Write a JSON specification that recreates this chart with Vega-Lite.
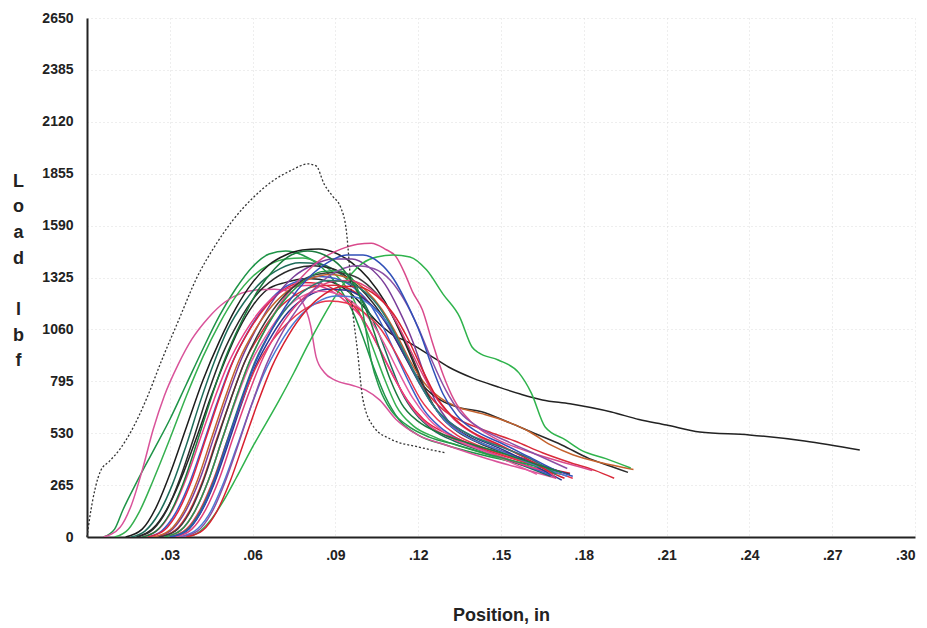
{
  "$schema": "https://vega.github.io/schema/vega-lite/v6.json",
  "width": 828,
  "height": 519,
  "autosize": {"type": "none"},
  "padding": {"left": 87, "top": 18, "right": 12, "bottom": 91},
  "background": "white",
  "config": {
    "view": {"stroke": null},
    "font": "Liberation Sans"
  },
  "datasets": {
    "dotted": [
      {"s":"A","x":0.0,"y":0},{"s":"A","x":0.001,"y":100},{"s":"A","x":0.003,"y":250},{"s":"A","x":0.005,"y":340},{"s":"A","x":0.008,"y":385},{"s":"A","x":0.012,"y":450},{"s":"A","x":0.016,"y":540},{"s":"A","x":0.022,"y":720},{"s":"A","x":0.027,"y":900},{"s":"A","x":0.033,"y":1100},{"s":"A","x":0.04,"y":1330},{"s":"A","x":0.047,"y":1500},{"s":"A","x":0.053,"y":1620},{"s":"A","x":0.06,"y":1730},{"s":"A","x":0.067,"y":1815},{"s":"A","x":0.074,"y":1872},{"s":"A","x":0.08,"y":1905},{"s":"A","x":0.083,"y":1895},{"s":"A","x":0.086,"y":1800},{"s":"A","x":0.089,"y":1740},{"s":"A","x":0.092,"y":1680},{"s":"A","x":0.094,"y":1560},{"s":"A","x":0.095,"y":1400},{"s":"A","x":0.096,"y":1200},{"s":"A","x":0.098,"y":950},{"s":"A","x":0.1,"y":700},{"s":"A","x":0.104,"y":560},{"s":"A","x":0.11,"y":500},{"s":"A","x":0.12,"y":460},{"s":"A","x":0.13,"y":430}
    ],
    "main": [
      {"s":"B","x":0.018,"y":0},{"s":"B","x":0.025,"y":60},{"s":"B","x":0.03,"y":170},{"s":"B","x":0.035,"y":330},{"s":"B","x":0.04,"y":520},{"s":"B","x":0.045,"y":720},{"s":"B","x":0.05,"y":900},{"s":"B","x":0.055,"y":1060},{"s":"B","x":0.06,"y":1180},{"s":"B","x":0.065,"y":1260},{"s":"B","x":0.072,"y":1300},{"s":"B","x":0.08,"y":1320},{"s":"B","x":0.088,"y":1305},{"s":"B","x":0.095,"y":1250},{"s":"B","x":0.1,"y":1180},{"s":"B","x":0.105,"y":1100},{"s":"B","x":0.11,"y":1040},{"s":"B","x":0.117,"y":990},{"s":"B","x":0.124,"y":930},{"s":"B","x":0.131,"y":868},{"s":"B","x":0.14,"y":810},{"s":"B","x":0.149,"y":766},{"s":"B","x":0.157,"y":730},{"s":"B","x":0.165,"y":700},{"s":"B","x":0.175,"y":680},{"s":"B","x":0.19,"y":638},{"s":"B","x":0.2,"y":600},{"s":"B","x":0.21,"y":572},{"s":"B","x":0.222,"y":536},{"s":"B","x":0.24,"y":521},{"s":"B","x":0.26,"y":490},{"s":"B","x":0.28,"y":444},

      {"s":"C1","x":0.006,"y":0},{"s":"C1","x":0.01,"y":40},{"s":"C1","x":0.013,"y":138},{"s":"C1","x":0.018,"y":280},{"s":"C1","x":0.024,"y":440},{"s":"C1","x":0.03,"y":600},{"s":"C1","x":0.036,"y":780},{"s":"C1","x":0.042,"y":960},{"s":"C1","x":0.048,"y":1130},{"s":"C1","x":0.054,"y":1270},{"s":"C1","x":0.06,"y":1380},{"s":"C1","x":0.066,"y":1445},{"s":"C1","x":0.072,"y":1460},{"s":"C1","x":0.078,"y":1440},{"s":"C1","x":0.084,"y":1390},{"s":"C1","x":0.09,"y":1300},{"s":"C1","x":0.096,"y":1160},{"s":"C1","x":0.1,"y":1020},{"s":"C1","x":0.104,"y":860},{"s":"C1","x":0.108,"y":720},{"s":"C1","x":0.113,"y":600},{"s":"C1","x":0.12,"y":520},{"s":"C1","x":0.13,"y":470},{"s":"C1","x":0.14,"y":430},{"s":"C1","x":0.155,"y":380},{"s":"C1","x":0.168,"y":330},

      {"s":"C2","x":0.006,"y":0},{"s":"C2","x":0.012,"y":50},{"s":"C2","x":0.016,"y":160},{"s":"C2","x":0.02,"y":340},{"s":"C2","x":0.024,"y":550},{"s":"C2","x":0.028,"y":720},{"s":"C2","x":0.033,"y":880},{"s":"C2","x":0.038,"y":1010},{"s":"C2","x":0.044,"y":1120},{"s":"C2","x":0.05,"y":1200},{"s":"C2","x":0.056,"y":1245},{"s":"C2","x":0.062,"y":1262},{"s":"C2","x":0.068,"y":1265},{"s":"C2","x":0.074,"y":1250},{"s":"C2","x":0.078,"y":1200},{"s":"C2","x":0.081,"y":1080},{"s":"C2","x":0.083,"y":920},{"s":"C2","x":0.086,"y":840},{"s":"C2","x":0.09,"y":800},{"s":"C2","x":0.096,"y":775},{"s":"C2","x":0.101,"y":750},{"s":"C2","x":0.106,"y":700},{"s":"C2","x":0.112,"y":600},{"s":"C2","x":0.12,"y":520},{"s":"C2","x":0.13,"y":470},{"s":"C2","x":0.145,"y":400},{"s":"C2","x":0.16,"y":340},{"s":"C2","x":0.17,"y":300},

      {"s":"C3","x":0.01,"y":0},{"s":"C3","x":0.015,"y":40},{"s":"C3","x":0.019,"y":130},{"s":"C3","x":0.024,"y":290},{"s":"C3","x":0.03,"y":500},{"s":"C3","x":0.036,"y":720},{"s":"C3","x":0.042,"y":920},{"s":"C3","x":0.048,"y":1090},{"s":"C3","x":0.054,"y":1230},{"s":"C3","x":0.06,"y":1330},{"s":"C3","x":0.066,"y":1390},{"s":"C3","x":0.072,"y":1420},{"s":"C3","x":0.078,"y":1425},{"s":"C3","x":0.084,"y":1400},{"s":"C3","x":0.09,"y":1340},{"s":"C3","x":0.096,"y":1230},{"s":"C3","x":0.1,"y":1100},{"s":"C3","x":0.104,"y":950},{"s":"C3","x":0.108,"y":800},{"s":"C3","x":0.112,"y":670},{"s":"C3","x":0.118,"y":570},{"s":"C3","x":0.126,"y":510},{"s":"C3","x":0.136,"y":460},{"s":"C3","x":0.15,"y":400},{"s":"C3","x":0.165,"y":340},{"s":"C3","x":0.172,"y":320},

      {"s":"C4","x":0.014,"y":0},{"s":"C4","x":0.02,"y":40},{"s":"C4","x":0.025,"y":150},{"s":"C4","x":0.03,"y":320},{"s":"C4","x":0.036,"y":560},{"s":"C4","x":0.042,"y":800},{"s":"C4","x":0.048,"y":1000},{"s":"C4","x":0.054,"y":1170},{"s":"C4","x":0.06,"y":1300},{"s":"C4","x":0.066,"y":1390},{"s":"C4","x":0.072,"y":1440},{"s":"C4","x":0.078,"y":1465},{"s":"C4","x":0.084,"y":1470},{"s":"C4","x":0.09,"y":1450},{"s":"C4","x":0.096,"y":1400},{"s":"C4","x":0.102,"y":1320},{"s":"C4","x":0.108,"y":1200},{"s":"C4","x":0.113,"y":1060},{"s":"C4","x":0.118,"y":900},{"s":"C4","x":0.122,"y":760},{"s":"C4","x":0.127,"y":640},{"s":"C4","x":0.133,"y":560},{"s":"C4","x":0.14,"y":500},{"s":"C4","x":0.15,"y":440},{"s":"C4","x":0.16,"y":390},{"s":"C4","x":0.17,"y":340},

      {"s":"C5","x":0.016,"y":0},{"s":"C5","x":0.021,"y":30},{"s":"C5","x":0.026,"y":120},{"s":"C5","x":0.031,"y":270},{"s":"C5","x":0.036,"y":470},{"s":"C5","x":0.041,"y":690},{"s":"C5","x":0.046,"y":890},{"s":"C5","x":0.051,"y":1060},{"s":"C5","x":0.057,"y":1200},{"s":"C5","x":0.063,"y":1300},{"s":"C5","x":0.07,"y":1370},{"s":"C5","x":0.077,"y":1400},{"s":"C5","x":0.084,"y":1395},{"s":"C5","x":0.09,"y":1360},{"s":"C5","x":0.096,"y":1290},{"s":"C5","x":0.101,"y":1180},{"s":"C5","x":0.106,"y":1030},{"s":"C5","x":0.11,"y":880},{"s":"C5","x":0.114,"y":740},{"s":"C5","x":0.119,"y":630},{"s":"C5","x":0.125,"y":550},{"s":"C5","x":0.133,"y":490},{"s":"C5","x":0.143,"y":440},{"s":"C5","x":0.155,"y":380},{"s":"C5","x":0.168,"y":310},

      {"s":"C6","x":0.022,"y":0},{"s":"C6","x":0.027,"y":30},{"s":"C6","x":0.032,"y":120},{"s":"C6","x":0.037,"y":270},{"s":"C6","x":0.042,"y":470},{"s":"C6","x":0.047,"y":680},{"s":"C6","x":0.052,"y":870},{"s":"C6","x":0.058,"y":1040},{"s":"C6","x":0.064,"y":1170},{"s":"C6","x":0.07,"y":1260},{"s":"C6","x":0.077,"y":1310},{"s":"C6","x":0.084,"y":1330},{"s":"C6","x":0.09,"y":1320},{"s":"C6","x":0.096,"y":1280},{"s":"C6","x":0.102,"y":1200},{"s":"C6","x":0.107,"y":1080},{"s":"C6","x":0.112,"y":930},{"s":"C6","x":0.117,"y":780},{"s":"C6","x":0.122,"y":650},{"s":"C6","x":0.128,"y":560},{"s":"C6","x":0.136,"y":490},{"s":"C6","x":0.146,"y":430},{"s":"C6","x":0.158,"y":370},{"s":"C6","x":0.17,"y":305},

      {"s":"C7","x":0.022,"y":0},{"s":"C7","x":0.028,"y":35},{"s":"C7","x":0.033,"y":130},{"s":"C7","x":0.038,"y":290},{"s":"C7","x":0.043,"y":500},{"s":"C7","x":0.048,"y":710},{"s":"C7","x":0.053,"y":900},{"s":"C7","x":0.059,"y":1060},{"s":"C7","x":0.065,"y":1180},{"s":"C7","x":0.071,"y":1260},{"s":"C7","x":0.078,"y":1300},{"s":"C7","x":0.084,"y":1295},{"s":"C7","x":0.09,"y":1260},{"s":"C7","x":0.096,"y":1190},{"s":"C7","x":0.101,"y":1090},{"s":"C7","x":0.106,"y":960},{"s":"C7","x":0.111,"y":820},{"s":"C7","x":0.116,"y":700},{"s":"C7","x":0.122,"y":600},{"s":"C7","x":0.13,"y":530},{"s":"C7","x":0.14,"y":470},{"s":"C7","x":0.152,"y":410},{"s":"C7","x":0.164,"y":360},{"s":"C7","x":0.175,"y":325},

      {"s":"C8","x":0.02,"y":0},{"s":"C8","x":0.026,"y":40},{"s":"C8","x":0.031,"y":140},{"s":"C8","x":0.036,"y":300},{"s":"C8","x":0.041,"y":500},{"s":"C8","x":0.046,"y":700},{"s":"C8","x":0.051,"y":880},{"s":"C8","x":0.057,"y":1040},{"s":"C8","x":0.063,"y":1160},{"s":"C8","x":0.069,"y":1240},{"s":"C8","x":0.076,"y":1280},{"s":"C8","x":0.082,"y":1285},{"s":"C8","x":0.088,"y":1260},{"s":"C8","x":0.094,"y":1200},{"s":"C8","x":0.1,"y":1110},{"s":"C8","x":0.105,"y":990},{"s":"C8","x":0.11,"y":850},{"s":"C8","x":0.115,"y":720},{"s":"C8","x":0.12,"y":620},{"s":"C8","x":0.127,"y":540},{"s":"C8","x":0.136,"y":480},{"s":"C8","x":0.148,"y":420},{"s":"C8","x":0.16,"y":360},{"s":"C8","x":0.168,"y":330},

      {"s":"C9","x":0.025,"y":0},{"s":"C9","x":0.031,"y":40},{"s":"C9","x":0.036,"y":140},{"s":"C9","x":0.041,"y":300},{"s":"C9","x":0.046,"y":510},{"s":"C9","x":0.051,"y":720},{"s":"C9","x":0.056,"y":910},{"s":"C9","x":0.062,"y":1080},{"s":"C9","x":0.068,"y":1220},{"s":"C9","x":0.075,"y":1330},{"s":"C9","x":0.082,"y":1390},{"s":"C9","x":0.089,"y":1420},{"s":"C9","x":0.096,"y":1420},{"s":"C9","x":0.102,"y":1380},{"s":"C9","x":0.108,"y":1290},{"s":"C9","x":0.113,"y":1160},{"s":"C9","x":0.118,"y":1000},{"s":"C9","x":0.122,"y":840},{"s":"C9","x":0.126,"y":700},{"s":"C9","x":0.131,"y":590},{"s":"C9","x":0.138,"y":510},{"s":"C9","x":0.148,"y":450},{"s":"C9","x":0.16,"y":390},{"s":"C9","x":0.172,"y":330},

      {"s":"C10","x":0.018,"y":0},{"s":"C10","x":0.024,"y":40},{"s":"C10","x":0.029,"y":140},{"s":"C10","x":0.034,"y":310},{"s":"C10","x":0.039,"y":520},{"s":"C10","x":0.044,"y":740},{"s":"C10","x":0.049,"y":930},{"s":"C10","x":0.055,"y":1100},{"s":"C10","x":0.061,"y":1230},{"s":"C10","x":0.068,"y":1320},{"s":"C10","x":0.075,"y":1370},{"s":"C10","x":0.082,"y":1385},{"s":"C10","x":0.089,"y":1370},{"s":"C10","x":0.095,"y":1320},{"s":"C10","x":0.101,"y":1240},{"s":"C10","x":0.107,"y":1130},{"s":"C10","x":0.112,"y":1010},{"s":"C10","x":0.117,"y":880},{"s":"C10","x":0.122,"y":770},{"s":"C10","x":0.128,"y":700},{"s":"C10","x":0.135,"y":660},{"s":"C10","x":0.143,"y":640},{"s":"C10","x":0.152,"y":590},{"s":"C10","x":0.162,"y":530},{"s":"C10","x":0.172,"y":470},{"s":"C10","x":0.182,"y":400},{"s":"C10","x":0.19,"y":360},{"s":"C10","x":0.196,"y":330},

      {"s":"C11","x":0.024,"y":0},{"s":"C11","x":0.03,"y":35},{"s":"C11","x":0.035,"y":130},{"s":"C11","x":0.04,"y":290},{"s":"C11","x":0.045,"y":500},{"s":"C11","x":0.05,"y":710},{"s":"C11","x":0.055,"y":900},{"s":"C11","x":0.061,"y":1060},{"s":"C11","x":0.067,"y":1180},{"s":"C11","x":0.074,"y":1270},{"s":"C11","x":0.081,"y":1320},{"s":"C11","x":0.088,"y":1340},{"s":"C11","x":0.095,"y":1320},{"s":"C11","x":0.101,"y":1260},{"s":"C11","x":0.107,"y":1160},{"s":"C11","x":0.112,"y":1040},{"s":"C11","x":0.117,"y":900},{"s":"C11","x":0.122,"y":790},{"s":"C11","x":0.128,"y":710},{"s":"C11","x":0.135,"y":660},{"s":"C11","x":0.143,"y":630},{"s":"C11","x":0.152,"y":590},{"s":"C11","x":0.16,"y":540},{"s":"C11","x":0.168,"y":470},{"s":"C11","x":0.176,"y":420},{"s":"C11","x":0.186,"y":380},{"s":"C11","x":0.198,"y":345},

      {"s":"C12","x":0.026,"y":0},{"s":"C12","x":0.032,"y":35},{"s":"C12","x":0.037,"y":130},{"s":"C12","x":0.042,"y":290},{"s":"C12","x":0.047,"y":500},{"s":"C12","x":0.052,"y":700},{"s":"C12","x":0.057,"y":890},{"s":"C12","x":0.063,"y":1040},{"s":"C12","x":0.069,"y":1160},{"s":"C12","x":0.076,"y":1240},{"s":"C12","x":0.083,"y":1280},{"s":"C12","x":0.09,"y":1285},{"s":"C12","x":0.096,"y":1260},{"s":"C12","x":0.102,"y":1200},{"s":"C12","x":0.108,"y":1100},{"s":"C12","x":0.113,"y":980},{"s":"C12","x":0.118,"y":850},{"s":"C12","x":0.123,"y":740},{"s":"C12","x":0.129,"y":650},{"s":"C12","x":0.136,"y":590},{"s":"C12","x":0.145,"y":540},{"s":"C12","x":0.155,"y":490},{"s":"C12","x":0.165,"y":430},{"s":"C12","x":0.175,"y":380},{"s":"C12","x":0.184,"y":340},{"s":"C12","x":0.191,"y":300},

      {"s":"C13","x":0.028,"y":0},{"s":"C13","x":0.034,"y":35},{"s":"C13","x":0.039,"y":130},{"s":"C13","x":0.044,"y":290},{"s":"C13","x":0.049,"y":500},{"s":"C13","x":0.054,"y":710},{"s":"C13","x":0.059,"y":900},{"s":"C13","x":0.065,"y":1070},{"s":"C13","x":0.071,"y":1210},{"s":"C13","x":0.078,"y":1330},{"s":"C13","x":0.085,"y":1420},{"s":"C13","x":0.092,"y":1470},{"s":"C13","x":0.098,"y":1495},{"s":"C13","x":0.103,"y":1500},{"s":"C13","x":0.108,"y":1470},{"s":"C13","x":0.112,"y":1430},{"s":"C13","x":0.115,"y":1350},{"s":"C13","x":0.118,"y":1250},{"s":"C13","x":0.1215,"y":1160},{"s":"C13","x":0.125,"y":1000},{"s":"C13","x":0.129,"y":830},{"s":"C13","x":0.133,"y":700},{"s":"C13","x":0.139,"y":590},{"s":"C13","x":0.147,"y":510},{"s":"C13","x":0.157,"y":450},{"s":"C13","x":0.168,"y":400},{"s":"C13","x":0.178,"y":360},{"s":"C13","x":0.183,"y":340},

      {"s":"C14","x":0.036,"y":0},{"s":"C14","x":0.04,"y":20},{"s":"C14","x":0.045,"y":90},{"s":"C14","x":0.049,"y":174},{"s":"C14","x":0.054,"y":300},{"s":"C14","x":0.06,"y":460},{"s":"C14","x":0.0697,"y":700},{"s":"C14","x":0.075,"y":840},{"s":"C14","x":0.08,"y":980},{"s":"C14","x":0.085,"y":1110},{"s":"C14","x":0.09,"y":1230},{"s":"C14","x":0.095,"y":1330},{"s":"C14","x":0.1,"y":1400},{"s":"C14","x":0.105,"y":1430},{"s":"C14","x":0.111,"y":1440},{"s":"C14","x":0.117,"y":1430},{"s":"C14","x":0.123,"y":1364},{"s":"C14","x":0.129,"y":1240},{"s":"C14","x":0.135,"y":1124},{"s":"C14","x":0.1395,"y":970},{"s":"C14","x":0.142,"y":940},{"s":"C14","x":0.149,"y":904},{"s":"C14","x":0.1565,"y":838},{"s":"C14","x":0.161,"y":735},{"s":"C14","x":0.166,"y":562},{"s":"C14","x":0.1735,"y":495},{"s":"C14","x":0.179,"y":444},{"s":"C14","x":0.188,"y":400},{"s":"C14","x":0.197,"y":352},

      {"s":"C15","x":0.03,"y":0},{"s":"C15","x":0.036,"y":30},{"s":"C15","x":0.041,"y":120},{"s":"C15","x":0.046,"y":270},{"s":"C15","x":0.051,"y":470},{"s":"C15","x":0.056,"y":680},{"s":"C15","x":0.061,"y":870},{"s":"C15","x":0.067,"y":1030},{"s":"C15","x":0.073,"y":1150},{"s":"C15","x":0.08,"y":1230},{"s":"C15","x":0.087,"y":1265},{"s":"C15","x":0.094,"y":1260},{"s":"C15","x":0.1,"y":1220},{"s":"C15","x":0.106,"y":1140},{"s":"C15","x":0.111,"y":1030},{"s":"C15","x":0.116,"y":900},{"s":"C15","x":0.121,"y":770},{"s":"C15","x":0.126,"y":660},{"s":"C15","x":0.132,"y":580},{"s":"C15","x":0.14,"y":510},{"s":"C15","x":0.15,"y":450},{"s":"C15","x":0.16,"y":380},{"s":"C15","x":0.172,"y":290},

      {"s":"C16","x":0.028,"y":0},{"s":"C16","x":0.034,"y":35},{"s":"C16","x":0.039,"y":130},{"s":"C16","x":0.044,"y":290},{"s":"C16","x":0.049,"y":500},{"s":"C16","x":0.054,"y":700},{"s":"C16","x":0.059,"y":880},{"s":"C16","x":0.065,"y":1030},{"s":"C16","x":0.071,"y":1150},{"s":"C16","x":0.078,"y":1230},{"s":"C16","x":0.085,"y":1255},{"s":"C16","x":0.091,"y":1240},{"s":"C16","x":0.097,"y":1190},{"s":"C16","x":0.103,"y":1100},{"s":"C16","x":0.108,"y":980},{"s":"C16","x":0.113,"y":840},{"s":"C16","x":0.118,"y":710},{"s":"C16","x":0.124,"y":600},{"s":"C16","x":0.131,"y":520},{"s":"C16","x":0.14,"y":460},{"s":"C16","x":0.152,"y":390},{"s":"C16","x":0.163,"y":320},

      {"s":"C17","x":0.03,"y":0},{"s":"C17","x":0.036,"y":40},{"s":"C17","x":0.041,"y":140},{"s":"C17","x":0.046,"y":300},{"s":"C17","x":0.051,"y":500},{"s":"C17","x":0.056,"y":690},{"s":"C17","x":0.061,"y":860},{"s":"C17","x":0.067,"y":1000},{"s":"C17","x":0.074,"y":1110},{"s":"C17","x":0.081,"y":1180},{"s":"C17","x":0.088,"y":1205},{"s":"C17","x":0.094,"y":1195},{"s":"C17","x":0.1,"y":1150},{"s":"C17","x":0.106,"y":1070},{"s":"C17","x":0.111,"y":960},{"s":"C17","x":0.116,"y":830},{"s":"C17","x":0.121,"y":700},{"s":"C17","x":0.127,"y":600},{"s":"C17","x":0.134,"y":520},{"s":"C17","x":0.143,"y":460},{"s":"C17","x":0.155,"y":400},{"s":"C17","x":0.168,"y":340},{"s":"C17","x":0.176,"y":300},

      {"s":"C18","x":0.026,"y":0},{"s":"C18","x":0.032,"y":30},{"s":"C18","x":0.037,"y":120},{"s":"C18","x":0.042,"y":280},{"s":"C18","x":0.047,"y":490},{"s":"C18","x":0.052,"y":700},{"s":"C18","x":0.057,"y":890},{"s":"C18","x":0.063,"y":1060},{"s":"C18","x":0.069,"y":1190},{"s":"C18","x":0.076,"y":1290},{"s":"C18","x":0.083,"y":1340},{"s":"C18","x":0.09,"y":1350},{"s":"C18","x":0.097,"y":1330},{"s":"C18","x":0.103,"y":1270},{"s":"C18","x":0.109,"y":1170},{"s":"C18","x":0.114,"y":1040},{"s":"C18","x":0.119,"y":880},{"s":"C18","x":0.123,"y":740},{"s":"C18","x":0.128,"y":620},{"s":"C18","x":0.134,"y":540},{"s":"C18","x":0.142,"y":480},{"s":"C18","x":0.153,"y":420},{"s":"C18","x":0.165,"y":360},{"s":"C18","x":0.175,"y":320},

      {"s":"C19","x":0.028,"y":0},{"s":"C19","x":0.034,"y":35},{"s":"C19","x":0.039,"y":130},{"s":"C19","x":0.044,"y":290},{"s":"C19","x":0.049,"y":500},{"s":"C19","x":0.054,"y":710},{"s":"C19","x":0.059,"y":900},{"s":"C19","x":0.065,"y":1070},{"s":"C19","x":0.071,"y":1200},{"s":"C19","x":0.078,"y":1300},{"s":"C19","x":0.085,"y":1355},{"s":"C19","x":0.091,"y":1360},{"s":"C19","x":0.096,"y":1320},{"s":"C19","x":0.099,"y":1220},{"s":"C19","x":0.101,"y":1060},{"s":"C19","x":0.103,"y":900},{"s":"C19","x":0.106,"y":760},{"s":"C19","x":0.11,"y":650},{"s":"C19","x":0.116,"y":570},{"s":"C19","x":0.124,"y":510},{"s":"C19","x":0.134,"y":470},{"s":"C19","x":0.146,"y":420},{"s":"C19","x":0.16,"y":370},{"s":"C19","x":0.172,"y":330},

      {"s":"C20","x":0.033,"y":0},{"s":"C20","x":0.039,"y":30},{"s":"C20","x":0.044,"y":110},{"s":"C20","x":0.049,"y":260},{"s":"C20","x":0.054,"y":450},{"s":"C20","x":0.059,"y":650},{"s":"C20","x":0.064,"y":830},{"s":"C20","x":0.07,"y":990},{"s":"C20","x":0.076,"y":1110},{"s":"C20","x":0.083,"y":1195},{"s":"C20","x":0.09,"y":1230},{"s":"C20","x":0.097,"y":1225},{"s":"C20","x":0.103,"y":1180},{"s":"C20","x":0.109,"y":1090},{"s":"C20","x":0.114,"y":970},{"s":"C20","x":0.119,"y":830},{"s":"C20","x":0.124,"y":700},{"s":"C20","x":0.13,"y":590},{"s":"C20","x":0.138,"y":510},{"s":"C20","x":0.148,"y":450},{"s":"C20","x":0.16,"y":380},{"s":"C20","x":0.174,"y":310},

      {"s":"C21","x":0.032,"y":0},{"s":"C21","x":0.038,"y":40},{"s":"C21","x":0.043,"y":140},{"s":"C21","x":0.048,"y":300},{"s":"C21","x":0.053,"y":510},{"s":"C21","x":0.058,"y":710},{"s":"C21","x":0.063,"y":890},{"s":"C21","x":0.069,"y":1050},{"s":"C21","x":0.075,"y":1170},{"s":"C21","x":0.082,"y":1260},{"s":"C21","x":0.089,"y":1305},{"s":"C21","x":0.095,"y":1310},{"s":"C21","x":0.101,"y":1280},{"s":"C21","x":0.107,"y":1210},{"s":"C21","x":0.112,"y":1100},{"s":"C21","x":0.117,"y":960},{"s":"C21","x":0.122,"y":820},{"s":"C21","x":0.127,"y":700},{"s":"C21","x":0.133,"y":600},{"s":"C21","x":0.141,"y":520},{"s":"C21","x":0.152,"y":450},{"s":"C21","x":0.163,"y":380},{"s":"C21","x":0.17,"y":300},

      {"s":"C22","x":0.034,"y":0},{"s":"C22","x":0.04,"y":30},{"s":"C22","x":0.045,"y":120},{"s":"C22","x":0.05,"y":280},{"s":"C22","x":0.055,"y":480},{"s":"C22","x":0.06,"y":690},{"s":"C22","x":0.065,"y":880},{"s":"C22","x":0.071,"y":1050},{"s":"C22","x":0.077,"y":1180},{"s":"C22","x":0.084,"y":1290},{"s":"C22","x":0.091,"y":1360},{"s":"C22","x":0.098,"y":1385},{"s":"C22","x":0.104,"y":1370},{"s":"C22","x":0.11,"y":1310},{"s":"C22","x":0.115,"y":1210},{"s":"C22","x":0.12,"y":1070},{"s":"C22","x":0.125,"y":900},{"s":"C22","x":0.13,"y":750},{"s":"C22","x":0.135,"y":640},{"s":"C22","x":0.142,"y":560},{"s":"C22","x":0.152,"y":490},{"s":"C22","x":0.163,"y":420},{"s":"C22","x":0.174,"y":350},

      {"s":"C23","x":0.036,"y":0},{"s":"C23","x":0.042,"y":35},{"s":"C23","x":0.047,"y":130},{"s":"C23","x":0.052,"y":290},{"s":"C23","x":0.057,"y":490},{"s":"C23","x":0.062,"y":690},{"s":"C23","x":0.067,"y":870},{"s":"C23","x":0.073,"y":1030},{"s":"C23","x":0.079,"y":1150},{"s":"C23","x":0.086,"y":1240},{"s":"C23","x":0.093,"y":1280},{"s":"C23","x":0.099,"y":1275},{"s":"C23","x":0.105,"y":1230},{"s":"C23","x":0.111,"y":1140},{"s":"C23","x":0.116,"y":1020},{"s":"C23","x":0.121,"y":870},{"s":"C23","x":0.126,"y":730},{"s":"C23","x":0.132,"y":620},{"s":"C23","x":0.139,"y":540},{"s":"C23","x":0.148,"y":480},{"s":"C23","x":0.158,"y":410},{"s":"C23","x":0.168,"y":330},{"s":"C23","x":0.173,"y":300},

      {"s":"C24","x":0.03,"y":0},{"s":"C24","x":0.036,"y":35},{"s":"C24","x":0.041,"y":130},{"s":"C24","x":0.046,"y":290},{"s":"C24","x":0.051,"y":500},{"s":"C24","x":0.056,"y":710},{"s":"C24","x":0.061,"y":900},{"s":"C24","x":0.067,"y":1060},{"s":"C24","x":0.073,"y":1180},{"s":"C24","x":0.08,"y":1270},{"s":"C24","x":0.087,"y":1310},{"s":"C24","x":0.093,"y":1305},{"s":"C24","x":0.099,"y":1270},{"s":"C24","x":0.105,"y":1190},{"s":"C24","x":0.11,"y":1080},{"s":"C24","x":0.115,"y":940},{"s":"C24","x":0.12,"y":800},{"s":"C24","x":0.125,"y":680},{"s":"C24","x":0.131,"y":590},{"s":"C24","x":0.139,"y":520},{"s":"C24","x":0.15,"y":460},{"s":"C24","x":0.162,"y":390},{"s":"C24","x":0.17,"y":320},

      {"s":"C25","x":0.03,"y":0},{"s":"C25","x":0.036,"y":30},{"s":"C25","x":0.041,"y":120},{"s":"C25","x":0.046,"y":280},{"s":"C25","x":0.051,"y":490},{"s":"C25","x":0.056,"y":700},{"s":"C25","x":0.061,"y":890},{"s":"C25","x":0.067,"y":1060},{"s":"C25","x":0.073,"y":1200},{"s":"C25","x":0.08,"y":1320},{"s":"C25","x":0.087,"y":1400},{"s":"C25","x":0.094,"y":1440},{"s":"C25","x":0.1,"y":1440},{"s":"C25","x":0.106,"y":1400},{"s":"C25","x":0.111,"y":1320},{"s":"C25","x":0.116,"y":1190},{"s":"C25","x":0.121,"y":1030},{"s":"C25","x":0.125,"y":870},{"s":"C25","x":0.129,"y":730},{"s":"C25","x":0.134,"y":620},{"s":"C25","x":0.141,"y":540},{"s":"C25","x":0.15,"y":480},{"s":"C25","x":0.16,"y":410},{"s":"C25","x":0.17,"y":340},{"s":"C25","x":0.176,"y":310},

      {"s":"C26","x":0.02,"y":0},{"s":"C26","x":0.025,"y":30},{"s":"C26","x":0.03,"y":120},{"s":"C26","x":0.035,"y":280},{"s":"C26","x":0.04,"y":490},{"s":"C26","x":0.045,"y":710},{"s":"C26","x":0.05,"y":910},{"s":"C26","x":0.056,"y":1100},{"s":"C26","x":0.062,"y":1260},{"s":"C26","x":0.068,"y":1370},{"s":"C26","x":0.074,"y":1440},{"s":"C26","x":0.08,"y":1460},{"s":"C26","x":0.086,"y":1440},{"s":"C26","x":0.092,"y":1380},{"s":"C26","x":0.097,"y":1280},{"s":"C26","x":0.102,"y":1130},{"s":"C26","x":0.106,"y":960},{"s":"C26","x":0.11,"y":800},{"s":"C26","x":0.114,"y":680},{"s":"C26","x":0.12,"y":590},{"s":"C26","x":0.128,"y":530},{"s":"C26","x":0.138,"y":480},{"s":"C26","x":0.15,"y":430},{"s":"C26","x":0.163,"y":370},{"s":"C26","x":0.172,"y":330}
    ]
  },
  "layer": [
    {
      "data": {"name": "main"},
      "mark": {"type": "line", "strokeWidth": 1.5, "interpolate": "monotone", "clip": true},
      "encoding": {
        "x": {
          "field": "x", "type": "quantitative",
          "scale": {"domain": [0, 0.3], "nice": false, "zero": true},
          "axis": {
            "title": "Position, in",
            "titleFont": "Liberation Sans", "titleFontSize": 18, "titleFontWeight": "bold", "titleColor": "#222",
            "titlePadding": 44,
            "values": [0.03, 0.06, 0.09, 0.12, 0.15, 0.18, 0.21, 0.24, 0.27, 0.3],
            "labelExpr": "slice(format(datum.value, '.2f'), 1)",
            "labelFont": "Liberation Sans", "labelFontSize": 14, "labelFontWeight": "bold", "labelColor": "#222",
            "labelPadding": 11,
            "ticks": false,
            "domainColor": "#222", "domainWidth": 2,
            "grid": true, "gridColor": "#cfcfcf", "gridDash": [1, 3], "gridOpacity": 0.7
          }
        },
        "y": {
          "field": "y", "type": "quantitative",
          "scale": {"domain": [0, 2650], "nice": false, "zero": true},
          "axis": {
            "title": ["L", "o", "a", "d", "\u2800", "l", "b", "f"],
            "titleAngle": 0, "titleAlign": "center", "titleBaseline": "top",
            "titleX": -69, "titleY": 154, "titleLineHeight": 25.7,
            "titleFont": "Liberation Sans", "titleFontSize": 18, "titleFontWeight": "bold", "titleColor": "#222",
            "values": [0, 265, 530, 795, 1060, 1325, 1590, 1855, 2120, 2385, 2650],
            "format": "d",
            "labelFont": "Liberation Sans", "labelFontSize": 14, "labelFontWeight": "bold", "labelColor": "#222",
            "labelPadding": 14,
            "ticks": false,
            "domainColor": "#222", "domainWidth": 2,
            "grid": true, "gridColor": "#cfcfcf", "gridDash": [1, 3], "gridOpacity": 0.7
          }
        },
        "detail": {"field": "s", "type": "nominal"},
        "color": {
          "field": "s", "type": "nominal", "legend": null,
          "scale": {
            "domain": ["B","C1","C2","C3","C4","C5","C6","C7","C8","C9","C10","C11","C12","C13","C14","C15","C16","C17","C18","C19","C20","C21","C22","C23","C24","C25","C26"],
            "range": ["#222222","#1e9447","#d9539a","#35b04f","#1c1c1c","#1d6b5a","#3d5cc9","#e2233f","#ea3f86","#7a3d99","#2a2a2a","#c4622d","#d92b3a","#d94a8c","#2fb34c","#2b3590","#e65ba0","#e8364f","#3c3c3c","#24994a","#4b7bd4","#e0407a","#8b4fa5","#d8202f","#2a7d70","#3050b8","#1b7a3d"]
          }
        }
      }
    },
    {
      "data": {"name": "dotted"},
      "mark": {"type": "line", "strokeWidth": 1.3, "strokeDash": [2, 2], "color": "#333333", "interpolate": "monotone"},
      "encoding": {
        "x": {"field": "x", "type": "quantitative"},
        "y": {"field": "y", "type": "quantitative"}
      }
    }
  ]
}
